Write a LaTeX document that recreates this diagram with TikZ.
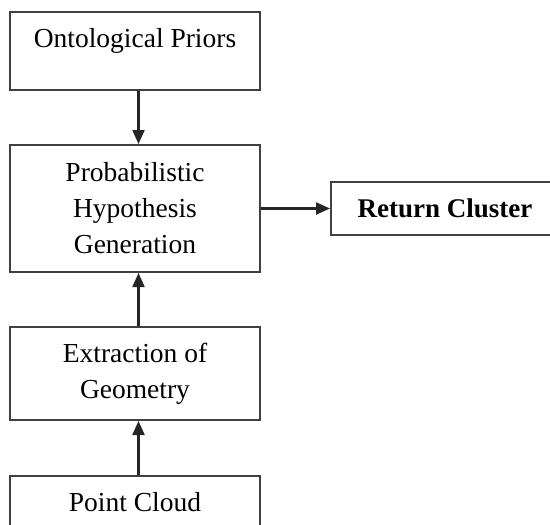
\documentclass[tikz,border=0pt]{standalone}
\usepackage{fontspec}
\setmainfont{Liberation Serif}
\usetikzlibrary{arrows.meta}

\begin{document}
\begin{tikzpicture}[
  x=1pt, y=-1pt,
  stage/.style={draw=black!75, line width=2pt, minimum width=250pt,
    inner sep=0pt, align=center, font=\fontsize{27.5}{36}\selectfont},
  topbox/.style={stage, text height=35pt, text depth=43pt},
  flow/.style={-{Triangle[length=14pt, width=12pt]}, line width=2.2pt, black!85},
]
  \useasboundingbox (0,0) rectangle (550,525);
  \clip (0,0) rectangle (550,525);

  % Boxes
  \node[topbox] (priors) at (135,51) {Ontological Priors};
  \node[stage, minimum height=127pt] (hypo) at (135,208.5) {Probabilistic\\Hypothesis\\Generation};
  \node[stage, minimum width=228pt, minimum height=53pt,
    font=\fontsize{27}{36}\selectfont\bfseries] (ret) at (445,208.5) {Return Cluster};
  \node[stage, minimum height=93pt] (geom) at (135,373.5) {Extraction of\\Geometry};
  \node[topbox] (cloud) at (135,515) {Point Cloud};

  % Arrows
  \draw[flow] ([xshift=3.5pt]priors.south) -- ([xshift=3.5pt]hypo.north);
  \draw[flow] ([xshift=3.5pt]geom.north) -- ([xshift=3.5pt]hypo.south);
  \draw[flow] ([xshift=3.5pt]cloud.north) -- ([xshift=3.5pt]geom.south);
  \draw[flow] (hypo.east) -- (ret.west);
\end{tikzpicture}
\end{document}
